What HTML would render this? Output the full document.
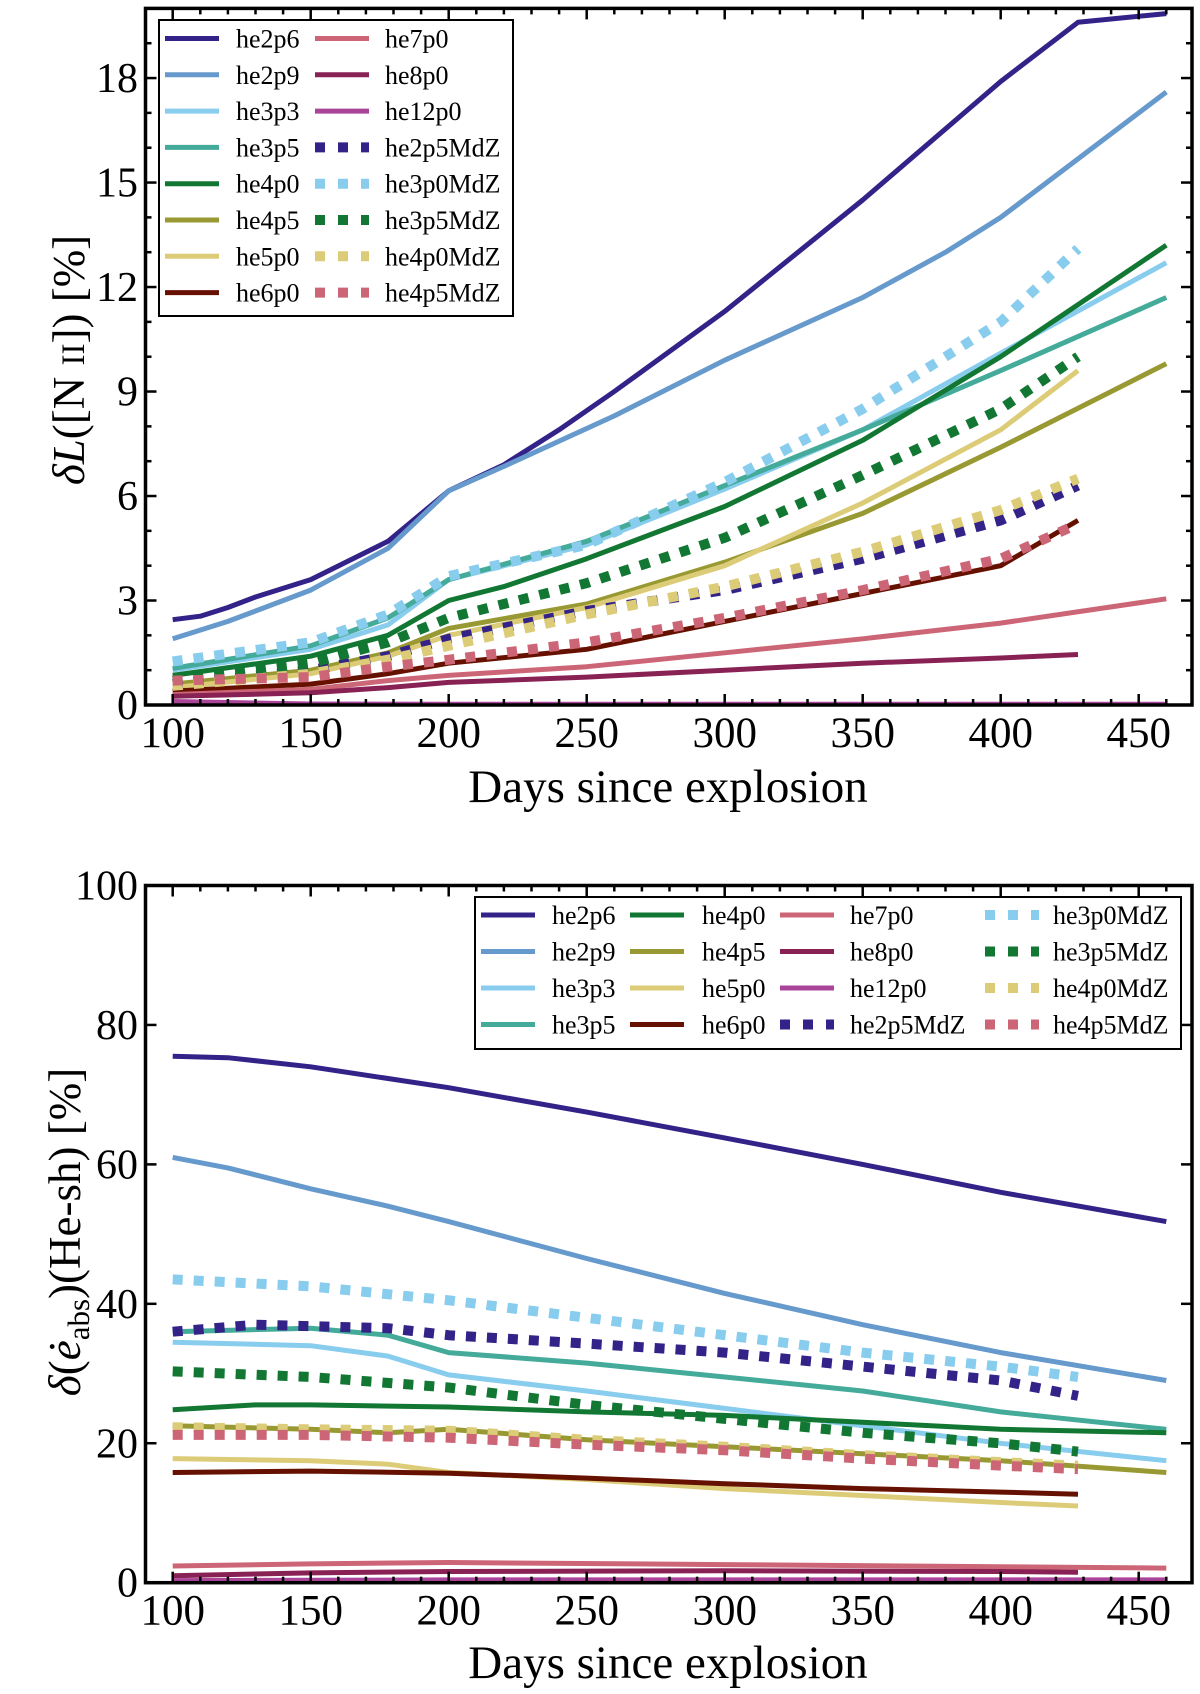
<!DOCTYPE html>
<html><head><meta charset="utf-8"><style>
html,body{margin:0;padding:0;background:#fff;}
svg{display:block;font-family:"Liberation Serif",serif;}
</style></head><body>
<svg id="fig" width="1200" height="1694" viewBox="0 0 1200 1694" xmlns="http://www.w3.org/2000/svg"></svg>
<script>
// ---------- data ----------
const names = ["he2p6","he2p9","he3p3","he3p5","he4p0","he4p5","he5p0","he6p0","he7p0","he8p0","he12p0","he2p5MdZ","he3p0MdZ","he3p5MdZ","he4p0MdZ","he4p5MdZ"];
const colors = ["#332288","#6699cc","#88ccee","#44aa99","#117733","#999933","#ddcc77","#661100","#cc6677","#882255","#aa4499","#332288","#88ccee","#117733","#ddcc77","#cc6677"];
const dotted = [0,0,0,0,0,0,0,0,0,0,0,1,1,1,1,1];
const xTicks = [100,150,200,250,300,350,400,450];
const topYTicks = [0,3,6,9,12,15,18];
const botYTicks = [0,20,40,60,80,100];
// top panel: delta L([N II])
const topX = [
 [100,110,120,130,150,178,200,220,240,260,300,350,400,428,460],
 [100,120,150,178,200,220,260,300,350,380,400,460],
 [100,150,178,200,250,300,350,400,460],
 [100,150,178,200,250,300,350,400,460],
 [100,150,178,200,220,250,300,350,400,460],
 [100,150,178,200,250,300,350,400,460],
 [100,150,178,200,250,300,350,400,428],
 [100,150,178,200,250,300,350,400,428],
 [100,150,178,200,250,300,350,400,460],
 [100,150,178,200,250,300,350,400,428],
 [100,150,200,460],
 [100,150,178,200,250,300,350,400,428],
 [100,150,178,200,250,300,350,400,428],
 [100,150,178,200,250,300,350,400,428],
 [100,150,178,200,250,300,350,400,428],
 [100,150,178,200,250,300,350,400,428]
];
const topY = [
 [2.45,2.55,2.8,3.1,3.6,4.7,6.15,6.9,7.9,9.0,11.3,14.5,17.9,19.6,19.85],
 [1.9,2.4,3.3,4.5,6.15,6.85,8.3,9.9,11.7,13.0,14.0,17.6],
 [1.0,1.6,2.3,3.6,4.6,6.2,7.9,10.1,12.7],
 [1.05,1.7,2.5,3.6,4.7,6.3,7.9,9.6,11.7],
 [0.85,1.4,2.0,3.0,3.4,4.2,5.7,7.6,10.0,13.2],
 [0.6,1.0,1.5,2.2,2.9,4.1,5.5,7.4,9.8],
 [0.5,0.9,1.4,2.0,2.8,4.0,5.8,7.9,9.6],
 [0.4,0.6,0.9,1.2,1.6,2.4,3.2,4.0,5.3],
 [0.3,0.45,0.7,0.85,1.1,1.5,1.9,2.35,3.05],
 [0.25,0.35,0.5,0.65,0.8,1.0,1.2,1.35,1.45],
 [0.1,0.03,0.02,0.02],
 [0.6,1.0,1.4,1.9,2.7,3.3,4.2,5.3,6.3],
 [1.25,1.8,2.6,3.7,4.6,6.4,8.5,11.0,13.1],
 [0.7,1.2,1.8,2.5,3.5,4.8,6.6,8.5,10.0],
 [0.55,0.9,1.3,1.7,2.6,3.4,4.4,5.6,6.5],
 [0.7,0.8,1.1,1.3,1.8,2.5,3.3,4.2,5.2]
];
// bottom panel: delta(e_abs)(He-sh)
const botX = [
 [100,120,150,200,250,300,350,400,460],
 [100,120,150,178,200,250,300,350,400,460],
 [100,150,178,200,250,300,350,400,460],
 [100,150,178,200,250,300,350,400,460],
 [100,130,150,200,250,300,350,400,460],
 [100,150,178,200,250,300,350,400,460],
 [100,150,178,200,250,300,350,400,428],
 [100,150,200,250,300,350,400,428],
 [100,150,200,300,400,460],
 [100,150,200,300,400,428],
 [100,200,300,460],
 [100,130,178,200,250,300,350,400,428],
 [100,150,200,250,300,350,400,428],
 [100,150,200,250,300,350,400,428],
 [100,150,200,250,300,350,400,428],
 [100,150,200,250,300,350,400,428]
];
const botY = [
 [75.5,75.3,74,71,67.5,63.8,60,56,51.8],
 [61,59.5,56.5,54,51.8,46.5,41.5,37,33,29],
 [34.5,34,32.5,29.8,27.5,25,22.5,20,17.5],
 [36,36.5,35.5,33,31.5,29.5,27.5,24.5,22],
 [24.8,25.5,25.5,25.2,24.5,24,23,22,21.5],
 [22.5,22,21.5,22,20.5,19.5,18.5,17.5,15.8],
 [17.8,17.5,17,15.8,14.8,13.5,12.5,11.5,11],
 [15.8,16,15.7,15,14.2,13.5,13,12.7],
 [2.4,2.7,2.9,2.6,2.3,2.1],
 [1.0,1.4,1.6,1.7,1.6,1.5],
 [0.3,0.4,0.4,0.4],
 [36,37,36.5,35.5,34.3,33,31,29,26.8],
 [43.5,42.5,40.5,38,35.5,33,31,29.5],
 [30.3,29.5,28,25.5,23.5,21.5,20,18.8],
 [22.3,22,21.8,20.5,19.5,18.3,17.3,16.8],
 [21.2,21.2,20.8,19.8,19,17.8,16.8,16.3]
];

// ---------- drawing ----------
const NS = "http://www.w3.org/2000/svg";
const svg = document.getElementById("fig");
function mk(tag, attrs, parent){ const e=document.createElementNS(NS,tag); for(const k in attrs) e.setAttribute(k,attrs[k]); (parent||svg).appendChild(e); return e; }

function panel(opt){
  const L=145.5,R=1192,T=opt.top,B=opt.bottom;
  const xs = d => 172.7 + (d-100)*2.76;
  const ys = v => B - (v-opt.ymin)/(opt.ymax-opt.ymin)*(B-T);
  const g = mk("g",{});
  
  
  const clipId = opt.id+"-clip";
  const cp = mk("clipPath",{id:clipId},g); mk("rect",{x:L,y:T,width:R-L,height:B-T},cp);
  const plot = mk("g",{"clip-path":"url(#"+clipId+")"},g);
  for(let i=0;i<names.length;i++){
    const X=opt.xs[i], Y=opt.ys[i];
    let d=""; for(let j=0;j<X.length;j++) d+=(j?"L":"M")+xs(X[j]).toFixed(1)+","+ys(Y[j]).toFixed(1);
    const p = mk("path",{d:d,fill:"none",stroke:colors[i],"stroke-width":dotted[i]?10:5,"stroke-linejoin":"round"},plot);
    if(dotted[i]) p.setAttribute("stroke-dasharray","10 11");
    
    
  }
  const fr = mk("rect",{x:L,y:T,width:R-L,height:B-T,fill:"none",stroke:"#000","stroke-width":3.5},g);
  
  
  for(let d=100; d<=460; d+=10){
    const x=xs(d), major = xTicks.indexOf(d)>=0, len = major?11:6;
    mk("line",{x1:x,x2:x,y1:B,y2:B-len,stroke:"#000","stroke-width":2.5},g);
    mk("line",{x1:x,x2:x,y1:T,y2:T+len,stroke:"#000","stroke-width":2.5},g);
  }
  xTicks.forEach(d=>{
    const t = mk("text",{x:xs(d),y:B+42,"font-size":43,"text-anchor":"middle"},g);
    t.textContent=d;
    
    
  });
  for(let v=opt.ymin; v<=opt.ymax+1e-9; v+=opt.minor){
    const y=ys(v), major = opt.yt.some(t=>Math.abs(t-v)<1e-6), len=major?11:6;
    mk("line",{x1:L,x2:L+len,y1:y,y2:y,stroke:"#000","stroke-width":2.5},g);
    mk("line",{x1:R,x2:R-len,y1:y,y2:y,stroke:"#000","stroke-width":2.5},g);
  }
  opt.yt.forEach(v=>{
    const t = mk("text",{x:138,y:ys(v)+14,"font-size":42,"text-anchor":"end"},g);
    t.textContent=v;
    
    
  });
  const xl = mk("text",{x:668,y:opt.xlabelY,"font-size":47,"text-anchor":"middle"},g);
  xl.textContent="Days since explosion";
  
  
  const lg = mk("g",{},g);
  
  
  const lb = opt.legend;
  mk("rect",{x:lb.x,y:lb.y,width:lb.w,height:lb.h,fill:"#fff",stroke:"#000","stroke-width":2},lg);
  for(let i=0;i<names.length;i++){
    const c = Math.floor(i/lb.rows), r = i%lb.rows;
    const hx = lb.hx[c], lx = lb.lx[c], y = lb.ry0 + r*lb.dy;
    const h = mk("line",{x1:hx,x2:hx+54,y1:y,y2:y,stroke:colors[i],"stroke-width":dotted[i]?10:5},lg);
    if(dotted[i]) h.setAttribute("stroke-dasharray","10 13");
    const t = mk("text",{x:lx,y:y+9,"font-size":26},lg);
    t.textContent = names[i];
    
    
  }
}

panel({id:"top",top:8.4,bottom:705,ymin:0,ymax:20,minor:1,yt:topYTicks,xs:topX,ys:topY,xlabelY:802,
  legend:{x:159,y:20,w:354,h:296,rows:8,dy:36.3,ry0:38.5,hx:[165,315],lx:[236,385]}});
panel({id:"bottom",top:885.5,bottom:1582.7,ymin:0,ymax:100,minor:20,yt:botYTicks,xs:botX,ys:botY,xlabelY:1678,
  legend:{x:475,y:897,w:706,h:152,rows:4,dy:36.5,ry0:915,hx:[481,630,780,985],lx:[552,702,850,1053]}});

const yt1 = mk("text",{x:0,y:0,"font-size":45,"text-anchor":"middle",transform:"translate(84,360) rotate(-90)"});
yt1.innerHTML = '<tspan font-style="italic">δL</tspan>([N <tspan font-size="33">II</tspan>]) [%]';


const yt2 = mk("text",{x:0,y:0,"font-size":45,"text-anchor":"middle",transform:"translate(80,1232) rotate(-90)"});
yt2.innerHTML = '<tspan font-style="italic">δ</tspan>(<tspan font-style="italic">ė</tspan><tspan font-size="31" dy="9">abs</tspan><tspan dy="-9">)(He-sh) [%]</tspan>';


</script>
</body></html>
